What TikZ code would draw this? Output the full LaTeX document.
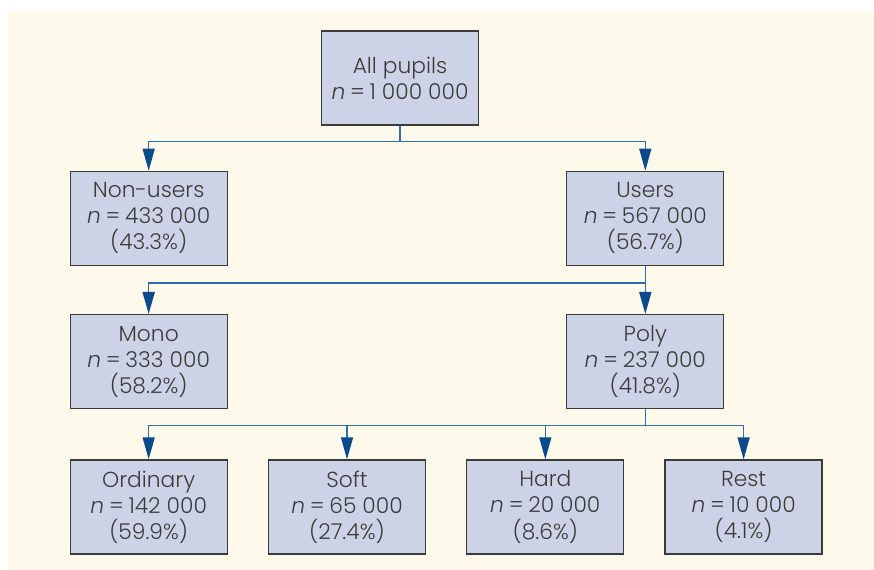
\documentclass[tikz,border=0pt]{standalone}
\usepackage{fontspec}
\setmainfont{Poppins Light}[ItalicFont={Poppins Light Italic}]
\usetikzlibrary{arrows.meta, positioning}
\definecolor{bgcream}{HTML}{FDF9EB}
\definecolor{boxfill}{HTML}{CDD3E6}
\definecolor{boxline}{HTML}{3A3A3A}
\definecolor{txtgray}{HTML}{3C3C3C}
\definecolor{lineblue}{HTML}{2F6FA8}
\definecolor{tipblue}{HTML}{0B4A8C}
\tikzstyle{grp} = [rectangle, draw=boxline, line width=0.75pt, fill=boxfill, text=txtgray, align=center, minimum width=3.14cm, minimum height=1.88cm, inner sep=0pt, font=\fontsize{12.4}{14.8}\selectfont]
\tikzstyle{conn} = [lineblue, line width=0.9pt]
\tikzstyle{tip} = [conn, -{Triangle[length=0.44cm, width=0.24cm, color=tipblue]}]
\newcommand{\nval}[1]{\textit{n}\hspace{0.22em}=\hspace{0.22em}#1}

\begin{document}
\begin{tikzpicture}

	% Canvas and background
	\useasboundingbox (0,0) rectangle (17.48,-11.4);
	\fill[white] (0,0) rectangle (17.48,-11.4);
	\fill[bgcream] (0.16,-0.2) rectangle (17.48,-11.4);

	% Root
	\node (allp) [grp] at (8.0,-1.56) {All pupils\\\nval{1~000~000}};

	% Second level
	\node (nonu) [grp, below left=0.9cm and 1.86cm of allp] {Non-users\\\nval{433~000}\\(43.3\%)};
	\node (users) [grp, below right=0.9cm and 1.74cm of allp] {Users\\\nval{567~000}\\(56.7\%)};

	% Third level
	\node (mono) [grp, below=0.96cm of nonu] {Mono\\\nval{333~000}\\(58.2\%)};
	\node (poly) [grp, below=0.96cm of users] {Poly\\\nval{237~000}\\(41.8\%)};

	% Fourth level
	\node (ord) [grp, below=1cm of mono] {Ordinary\\\nval{142~000}\\(59.9\%)};
	\node (soft) [grp, right=0.8cm of ord] {Soft\\\nval{65~000}\\(27.4\%)};
	\node (hard) [grp, right=0.8cm of soft] {Hard\\\nval{20~000}\\(8.6\%)};
	\node (rest) [grp, right=0.8cm of hard] {Rest\\\nval{10~000}\\(4.1\%)};

	% Branches
	\draw[conn] (allp.south) -- ++(0,-0.32) coordinate (b1);
	\draw[tip] (b1) -| (nonu.north);
	\draw[tip] (b1) -| (users.north);

	\draw[conn] (users.south) -- ++(0,-0.34) coordinate (b2);
	\draw[tip] (b2) -| (mono.north);
	\draw[tip] (b2) -- (poly.north);

	\draw[conn] (poly.south) -- ++(0,-0.32) coordinate (b3);
	\draw[tip] (b3) -| (ord.north);
	\draw[tip] (b3) -| (soft.north);
	\draw[tip] (b3) -| (hard.north);
	\draw[tip] (b3) -| (rest.north);

\end{tikzpicture}
\end{document}
